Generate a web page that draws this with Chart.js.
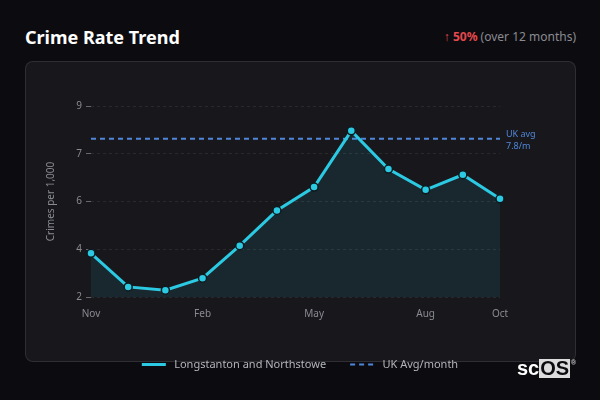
<!DOCTYPE html>
<html lang="en">
<head>
  <meta charset="UTF-8" />
  <title>Crime Rate Trend</title>
  <script src="https://cdn.jsdelivr.net/npm/chart.js"></script>
  <style>
    html, body { margin: 0; padding: 0; }
    body { width: 600px; height: 400px; background: #0c0c10; font-family: "Noto Sans", sans-serif; position: relative; overflow: hidden; }
    .title { position: absolute; left: 25px; top: 25px; color: #fff; font-size: 18px; font-weight: 700; }
    .change { position: absolute; right: 24px; top: 28px; font-size: 12px; color: #8a8a92; }
    .change .up { color: #e5484d; }
    .change b { color: #e5484d; }
    .card { position: absolute; left: 25px; top: 61px; width: 549px; height: 299px; background: #18181c; border: 1px solid rgba(255,255,255,0.1); border-radius: 8px; }
    #wrap { position: absolute; left: 0; top: 0; width: 600px; height: 400px; }
    .logo { position: absolute; left: 517px; top: 359px; height: 19px; line-height: 19px; font-family: "Liberation Sans", Arial, sans-serif; font-size: 20px; font-weight: 700; color: #fff; }
    .logo span { display: inline-block; background: #dcdcdc; color: #0c0c10; padding: 0 1px; height: 19px; }
    .logo sup { font-size: 7px; position: absolute; right: -6px; top: -6px; color: #ccc; }
  </style>
</head>
<body>
  <div class="title">Crime Rate Trend</div>
  <div class="change"><span class="up">↑</span> <b>50%</b> (over 12 months)</div>
  <div class="card"></div>
  <div id="wrap"><canvas id="chart"></canvas></div>
  <div class="logo">sc<span>OS</span><sup>®</sup></div>

  <script>
    const months = ['Nov', 'Dec', 'Jan', 'Feb', 'Mar', 'Apr', 'May', 'Jun', 'Jul', 'Aug', 'Sep', 'Oct'];
    const crimeRate = [3.6, 2.37, 2.25, 2.69, 3.88, 5.17, 6.03, 8.09, 6.69, 5.93, 6.48, 5.6];
    const ukAvgValue = 7.8;
    const ukAvg = months.map(() => ukAvgValue);
    const shownMonths = ['Nov', 'Feb', 'May', 'Aug', 'Oct'];

    const lineColor = '#2cc9e2';
    const avgColor = '#4f86d9';

    // label for the UK average line, to the right of the plot
    const ukLabel = {
      id: 'ukLabel',
      afterDatasetsDraw(chart) {
        const { ctx, chartArea, scales } = chart;
        const y = scales.y.getPixelForValue(ukAvgValue);
        ctx.save();
        ctx.fillStyle = avgColor;
        ctx.font = '9px "Noto Sans"';
        ctx.textBaseline = 'middle';
        ctx.fillText('UK avg', chartArea.right + 6, y - 4);
        ctx.fillText(ukAvgValue + '/m', chartArea.right + 6, y + 8);
        ctx.restore();
      }
    };

    new Chart(document.getElementById('chart'), {
      type: 'line',
      data: {
        labels: months,
        datasets: [{
          label: 'Longstanton and Northstowe',
          data: crimeRate,
          borderColor: lineColor,
          backgroundColor: 'rgba(34, 211, 238, 0.09)',
          borderWidth: 3,
          fill: 'start',
          tension: 0,
          pointRadius: 4,
          pointBackgroundColor: lineColor,
          pointBorderColor: '#0d1a1f',
          pointBorderWidth: 1.5
        }, {
          label: 'UK Avg/month',
          data: ukAvg,
          borderColor: avgColor,
          borderWidth: 2,
          borderDash: [5, 4],
          pointRadius: 0,
          fill: false
        }]
      },
      options: {
        responsive: true,
        maintainAspectRatio: false,
        animation: false,
        layout: { padding: { left: 41, right: 41, top: 106, bottom: 20 } },
        scales: {
          x: {
            grid: { display: false },
            border: { display: false },
            ticks: {
              color: '#8a8a92',
              font: { size: 10, family: 'Noto Sans' },
              autoSkip: false,
              maxRotation: 0,
              callback(v, i) { return shownMonths.includes(months[i]) ? months[i] : ''; }
            },
            afterFit(s) { s.height = 38; }
          },
          y: {
            min: 2,
            max: 9,
            ticks: {
              stepSize: 1.75,
              color: '#8a8a92',
              font: { size: 10, family: 'Noto Sans' },
              padding: 4,
              callback(v) { return Number(v).toFixed(0); }
            },
            grid: {
              color: 'rgba(255,255,255,0.08)',
              tickColor: 'rgba(255,255,255,0.35)',
              tickLength: 5
            },
            border: { display: false, dash: [3, 3] },
            title: {
              display: true,
              text: 'Crimes per 1,000',
              color: '#8a8a92',
              font: { size: 10, family: 'Noto Sans' }
            },
            afterFit(s) { s.width = 50; }
          },
          // empty right-hand box that leaves room for the UK avg label
          yRight: {
            position: 'right',
            display: true,
            ticks: { display: false },
            grid: { display: false },
            border: { display: false },
            afterFit(s) { s.width = 59; }
          }
        },
        plugins: {
          legend: {
            position: 'bottom',
            labels: {
              color: '#b4b4bc',
              font: { size: 11, family: 'Noto Sans' },
              usePointStyle: true,
              pointStyleWidth: 24,
              boxWidth: 24,
              boxHeight: 8,
              padding: 24,
              generateLabels(chart) {
                return chart.data.datasets.map((ds, i) => ({
                  text: ' ' + ds.label,
                  datasetIndex: i,
                  pointStyle: 'line',
                  strokeStyle: ds.borderColor,
                  fillStyle: ds.borderColor,
                  lineWidth: i === 0 ? 3 : 2,
                  lineDash: ds.borderDash || [],
                  fontColor: '#b4b4bc',
                  hidden: false
                }));
              }
            }
          },
          tooltip: { enabled: false }
        }
      },
      plugins: [ukLabel]
    });
  </script>
</body>
</html>
